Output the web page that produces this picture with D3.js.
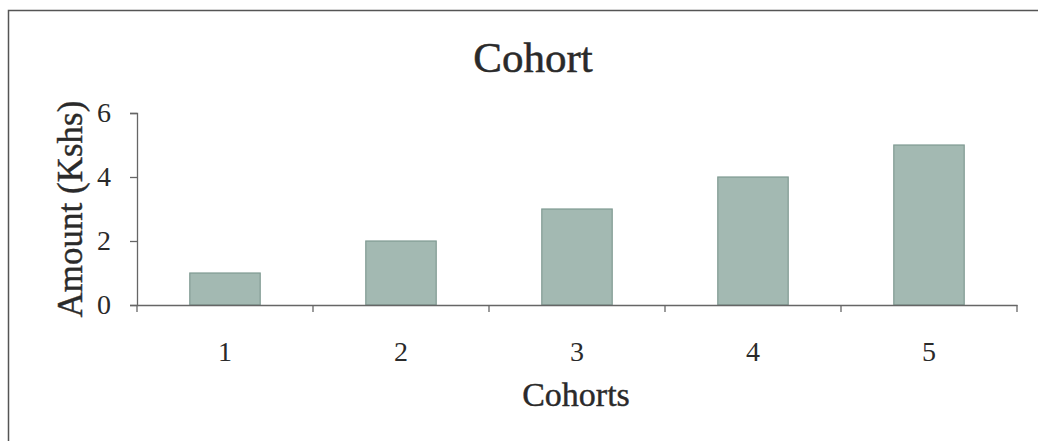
<!DOCTYPE html>
<html><head><meta charset="utf-8">
<script src="https://cdn.jsdelivr.net/npm/d3@7"></script>
<style>body{margin:0;background:#fff}svg{display:block}</style>
</head><body>
<svg id="c" width="1038" height="443"></svg>
<script>
const categories = ["1","2","3","4","5"];
const values = [1, 2, 3, 4, 5];
const yTicks = [0, 2, 4, 6];
const title = "Cohort";
const xTitle = "Cohorts";
const yTitle = "Amount (Kshs)";

const svg = d3.select("#c");
const font = "'Liberation Serif', 'DejaVu Serif', serif";
const ink = "#2a2a2a";
const m = {left:137, right:1017, top:113, bottom:305};

// frame
svg.append("path").attr("d","M8.5,441 L8.5,10.5 L1038,10.5")
  .attr("fill","none").attr("stroke","#555").attr("stroke-width",1.5);

const x = d3.scaleBand().domain(categories).range([m.left, m.right]).paddingInner(0.6).paddingOuter(0.3);
const xb = d3.scaleBand().domain(categories).range([m.left, m.right]);
const y = d3.scaleLinear().domain([0,6]).range([m.bottom, m.top]);

svg.append("g").selectAll("rect").data(values).join("rect")
  .attr("x",(d,i)=>x(categories[i]))
  .attr("width",x.bandwidth())
  .attr("y",d=>y(d))
  .attr("height",d=>y(0)-y(d))
  .attr("fill","#a3b9b2").attr("stroke","#7f9a92").attr("stroke-width",1.2);

// y axis
const ya = svg.append("g").attr("transform",`translate(${m.left},0)`)
  .call(d3.axisLeft(y).tickValues(yTicks).tickFormat(d3.format("d")).tickSize(7).tickPadding(19));
ya.select(".domain").attr("stroke","#666").attr("stroke-width",1.3);
ya.selectAll(".tick line").attr("stroke","#666").attr("stroke-width",1.3);
ya.selectAll("text").attr("font-family",font).attr("font-size",28).attr("fill",ink);

// x axis with ticks at band boundaries
const xa = svg.append("g").attr("transform",`translate(0,${m.bottom})`)
  .call(d3.axisBottom(xb).tickSize(0).tickPadding(36));
xa.select(".domain").attr("stroke","#666").attr("stroke-width",1.3);
xa.selectAll("text").attr("font-family",font).attr("font-size",28).attr("fill",ink);
const bounds = categories.map(c=>xb(c)).concat([xb(categories[categories.length-1])+xb.bandwidth()]);
xa.selectAll(".bt").data(bounds).join("line").attr("class","bt")
  .attr("x1",d=>d).attr("x2",d=>d).attr("y1",0).attr("y2",7)
  .attr("stroke","#666").attr("stroke-width",1.3);

svg.append("text").attr("x",533).attr("y",72).attr("text-anchor","middle")
  .attr("font-family",font).attr("font-size",43).attr("fill",ink)
  .attr("stroke",ink).attr("stroke-width",0.5).text(title);
svg.append("text").attr("x",576).attr("y",406).attr("text-anchor","middle")
  .attr("font-family",font).attr("font-size",34).attr("fill",ink)
  .attr("stroke",ink).attr("stroke-width",0.4).text(xTitle);
svg.append("text").attr("transform","translate(82,209) rotate(-90)").attr("text-anchor","middle")
  .attr("font-family",font).attr("font-size",35).attr("fill",ink)
  .attr("stroke",ink).attr("stroke-width",0.4).text(yTitle);
</script>
</body></html>
